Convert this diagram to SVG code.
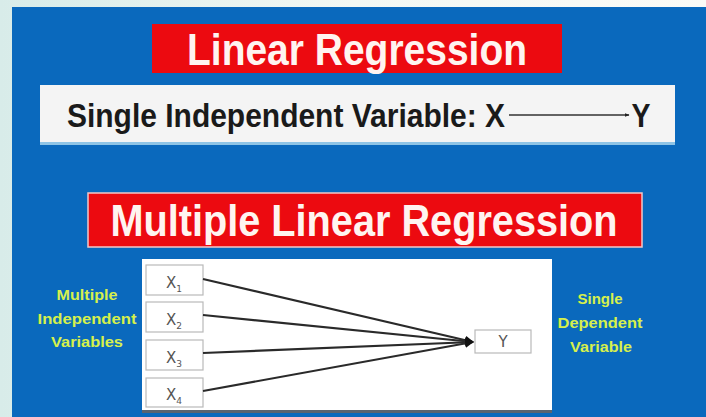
<svg xmlns="http://www.w3.org/2000/svg" width="706" height="417" viewBox="0 0 706 417">
  <defs>
    <linearGradient id="bgl" x1="0" y1="0" x2="1" y2="0">
      <stop offset="0" stop-color="#d8ece9"/>
      <stop offset="0.5" stop-color="#f3f8f4"/>
      <stop offset="1" stop-color="#fbfbf7"/>
    </linearGradient>
    <marker id="ah" viewBox="0 0 10 10" refX="9" refY="5" markerWidth="4" markerHeight="4" orient="auto" markerUnits="strokeWidth">
      <path d="M0,0 L10,5 L0,10 z" fill="#111"/>
    </marker>
    <marker id="ah2" viewBox="0 0 10 10" refX="9" refY="5" markerWidth="5" markerHeight="5" orient="auto" markerUnits="userSpaceOnUse">
      <path d="M0,1 L10,5 L0,9 z" fill="#222"/>
    </marker>
  </defs>
  <style>
    .title { font-family: "Liberation Sans", Arial, sans-serif; font-weight: bold; fill: #fff4f0; text-anchor: middle; }
    .redbox { fill: #ec0a10; }
    .sub { font-family: "Liberation Sans", Arial, sans-serif; font-weight: bold; fill: #1a1a1a; }
    .side { font-family: "Liberation Sans", Arial, sans-serif; font-weight: bold; font-size: 15px; fill: #d6f04c; text-anchor: middle; }
    .vbox { fill: #ffffff; stroke: #b9b9b9; stroke-width: 1.2; }
    .var { font-family: "DejaVu Sans", sans-serif; font-size: 15px; fill: #555; text-anchor: middle; }
    .idx { font-size: 9px; }
    .conn { stroke: #2a2a2a; stroke-width: 2.2; fill: none; }
  </style>

  <rect x="0" y="0" width="706" height="417" fill="url(#bgl)"/>
  <rect x="12" y="7" width="694" height="410" fill="#0a69bd"/>

  <g id="title-linear">
    <rect class="redbox" x="152" y="24" width="410" height="49"/>
    <text class="title" x="357" y="65" font-size="44" textLength="340" lengthAdjust="spacingAndGlyphs">Linear Regression</text>
  </g>

  <g id="single-box">
    <rect x="40" y="86" width="635" height="59" fill="#8fc4e6"/>
    <rect x="40" y="85" width="635" height="57" fill="#f4f4f4"/>
    <text class="sub" x="67" y="127" font-size="34" textLength="438" lengthAdjust="spacingAndGlyphs">Single Independent Variable: X</text>
    <text class="sub" x="641" y="127" font-size="34" text-anchor="middle" textLength="19" lengthAdjust="spacingAndGlyphs">Y</text>
  </g>

  <g id="title-multiple">
    <rect class="redbox" x="88" y="193" width="554" height="54" stroke="#f4c8c8" stroke-width="1.5"/>
    <text class="title" x="364" y="236" font-size="45" textLength="507" lengthAdjust="spacingAndGlyphs">Multiple Linear Regression</text>
  </g>

  <g id="panel">
    <rect x="142" y="262" width="410" height="151" fill="#5a6470"/>
    <rect x="142" y="259" width="410" height="151" fill="#ffffff"/>
  </g>

  <g id="label-left">
    <text class="side" x="87" y="300" textLength="61" lengthAdjust="spacingAndGlyphs">Multiple</text>
    <text class="side" x="87" y="324" textLength="99" lengthAdjust="spacingAndGlyphs">Independent</text>
    <text class="side" x="87" y="347" textLength="72" lengthAdjust="spacingAndGlyphs">Variables</text>
  </g>

  <g id="label-right">
    <text class="side" x="600" y="304" textLength="45" lengthAdjust="spacingAndGlyphs">Single</text>
    <text class="side" x="600" y="328" textLength="85" lengthAdjust="spacingAndGlyphs">Dependent</text>
    <text class="side" x="601" y="352" textLength="62" lengthAdjust="spacingAndGlyphs">Variable</text>
  </g>

  <g id="x1">
    <rect class="vbox" x="146" y="265" width="57" height="30"/>
    <text class="var" x="174" y="288">X<tspan class="idx" dy="4">1</tspan></text>
  </g>
  <g id="x2">
    <rect class="vbox" x="146" y="302" width="57" height="30"/>
    <text class="var" x="174" y="325">X<tspan class="idx" dy="4">2</tspan></text>
  </g>
  <g id="x3">
    <rect class="vbox" x="146" y="340" width="57" height="30"/>
    <text class="var" x="174" y="363">X<tspan class="idx" dy="4">3</tspan></text>
  </g>
  <g id="x4">
    <rect class="vbox" x="146" y="378" width="57" height="29"/>
    <text class="var" x="174" y="400">X<tspan class="idx" dy="4">4</tspan></text>
  </g>
  <g id="y">
    <rect class="vbox" x="475" y="330" width="56" height="23"/>
    <text class="var" x="503" y="347">Y</text>
  </g>

  <g id="connectors">
    <line x1="509" y1="115" x2="629" y2="115" stroke="#333" stroke-width="1.6" marker-end="url(#ah2)"/>
    <line class="conn" x1="203" y1="279" x2="473" y2="342" marker-end="url(#ah)"/>
    <line class="conn" x1="203" y1="315" x2="473" y2="342" marker-end="url(#ah)"/>
    <line class="conn" x1="203" y1="353" x2="473" y2="342" marker-end="url(#ah)"/>
    <line class="conn" x1="203" y1="391" x2="473" y2="342" marker-end="url(#ah)"/>
  </g>
</svg>
